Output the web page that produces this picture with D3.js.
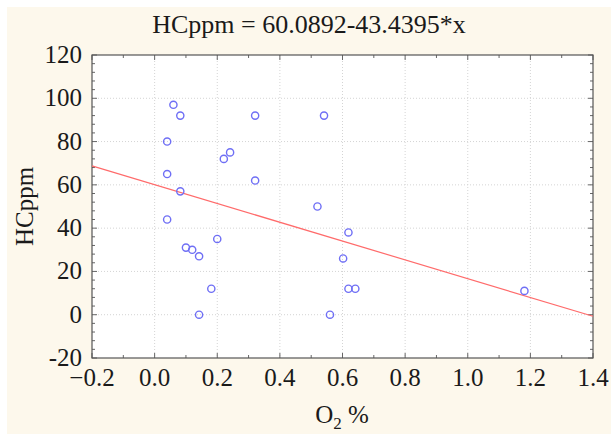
<!DOCTYPE html>
<html>
<head>
<meta charset="utf-8">
<script src="https://cdn.jsdelivr.net/npm/d3@7"></script>
<style>
  body { margin: 0; background: #fff; }
  text { font-family: "Liberation Serif", "DejaVu Serif", serif; fill: #1a1a1a; }
</style>
</head>
<body>
<svg id="chart" width="611" height="434"></svg>
<script>
var w = 611, h = 434;

// data
var o2 = [0.06, 0.082, 0.04, 0.04, 0.082, 0.221, 0.241, 0.321, 0.321, 0.541,
          0.04, 0.10, 0.12, 0.142, 0.20, 0.181, 0.142,
          0.52, 0.619, 0.602, 0.619, 0.641, 0.56, 1.181];
var hc = [97, 92, 80, 65, 57, 72, 75, 92, 62, 92,
          44, 31, 30, 27, 35, 12, 0,
          50, 38, 26, 12, 12, 0, 11];
var fitA = 60.0892, fitB = -43.4395;
var xTicks = [-0.2, 0.0, 0.2, 0.4, 0.6, 0.8, 1.0, 1.2, 1.4];
var yTicks = [-20, 0, 20, 40, 60, 80, 100, 120];

var margin = {left: 92, top: 55, right: 18, bottom: 76};

var svg = d3.select("#chart");

// cream page
svg.append("rect")
  .attr("x", 7).attr("y", 7)
  .attr("width", w - 7).attr("height", h - 7)
  .attr("fill", "#fdf8ec");

var x = d3.scaleLinear().domain([-0.2, 1.4]).range([margin.left, w - margin.right]);
var y = d3.scaleLinear().domain([-20, 120]).range([h - margin.bottom, margin.top]);

// plot area
svg.append("rect")
  .attr("x", x(-0.2)).attr("y", y(120))
  .attr("width", x(1.4) - x(-0.2)).attr("height", y(-20) - y(120))
  .attr("fill", "#fff");

// grid
var grid = svg.append("g").attr("stroke", "#d4d4d4").attr("stroke-dasharray", "1,2");
grid.selectAll(".gx").data(xTicks.slice(1, -1)).enter().append("line")
  .attr("x1", function(d){ return x(d); }).attr("x2", function(d){ return x(d); })
  .attr("y1", y(120)).attr("y2", y(-20));
grid.selectAll(".gy").data(yTicks.slice(1, -1)).enter().append("line")
  .attr("x1", x(-0.2)).attr("x2", x(1.4))
  .attr("y1", function(d){ return y(d); }).attr("y2", function(d){ return y(d); });

// ticks (inside, all four sides)
var xMinor = d3.range(-0.2, 1.401, 0.1);
var yMinor = d3.range(-20, 120.01, 4);
var tk = svg.append("g").attr("stroke", "#666").attr("stroke-width", 1);
xMinor.forEach(function(d, i){
  var len = i % 2 === 0 ? 5 : 3;
  tk.append("line").attr("x1", x(d)).attr("x2", x(d)).attr("y1", y(-20)).attr("y2", y(-20) - len);
  tk.append("line").attr("x1", x(d)).attr("x2", x(d)).attr("y1", y(120)).attr("y2", y(120) + len);
});
yMinor.forEach(function(d, i){
  var len = i % 5 === 0 ? 5 : 3;
  tk.append("line").attr("y1", y(d)).attr("y2", y(d)).attr("x1", x(-0.2)).attr("x2", x(-0.2) + len);
  tk.append("line").attr("y1", y(d)).attr("y2", y(d)).attr("x1", x(1.4)).attr("x2", x(1.4) - len);
});

// frame
svg.append("rect")
  .attr("x", x(-0.2)).attr("y", y(120))
  .attr("width", x(1.4) - x(-0.2)).attr("height", y(-20) - y(120))
  .attr("fill", "none").attr("stroke", "#555").attr("stroke-width", 1.2);

// tick labels
svg.selectAll(".xl").data(xTicks).enter().append("text")
  .attr("x", function(d){ return x(d); })
  .attr("y", y(-20) + 28)
  .attr("text-anchor", "middle")
  .attr("font-size", 25)
  .text(function(d){ return d3.format(".1f")(d); });
svg.selectAll(".yl").data(yTicks).enter().append("text")
  .attr("x", x(-0.2) - 10)
  .attr("y", function(d){ return y(d) + 8; })
  .attr("text-anchor", "end")
  .attr("font-size", 25)
  .text(function(d){ return d; });

// regression line
var line = d3.line()
  .x(function(d){ return x(d); })
  .y(function(d){ return y(fitA + fitB * d); });
svg.append("path")
  .datum([-0.2, 1.4])
  .attr("d", line)
  .attr("fill", "none").attr("stroke", "#ff6b6b").attr("stroke-width", 1.2);

// points
svg.selectAll(".pt").data(o2).enter().append("circle")
  .attr("cx", function(d){ return x(d); })
  .attr("cy", function(d, i){ return y(hc[i]); })
  .attr("r", 3.6)
  .attr("fill", "none").attr("stroke", "#6f6ff5").attr("stroke-width", 1.4);

// title
svg.append("text")
  .attr("x", 309).attr("y", 33)
  .attr("text-anchor", "middle")
  .attr("font-size", 26)
  .text("HCppm = " + fitA + "-" + (-fitB) + "*x");

// axis titles
var xt = svg.append("text")
  .attr("x", 342).attr("y", 423)
  .attr("text-anchor", "middle")
  .attr("font-size", 25);
xt.append("tspan").text("O");
xt.append("tspan").attr("font-size", 17).attr("dy", 6).text("2");
xt.append("tspan").attr("dy", -6).text(" %");

svg.append("text")
  .attr("transform", "translate(33," + ((y(120) + y(-20)) / 2) + ") rotate(-90)")
  .attr("text-anchor", "middle")
  .attr("font-size", 25)
  .text("HCppm");
</script>
</body>
</html>
